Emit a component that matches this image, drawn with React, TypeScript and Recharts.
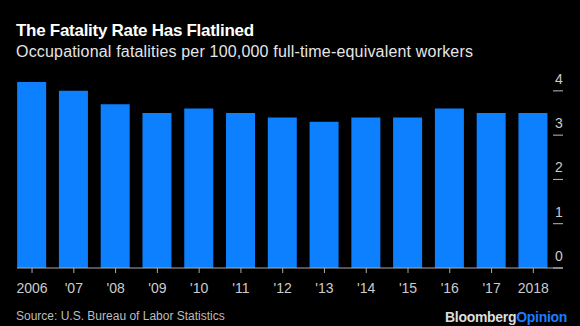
import { BarChart, Bar, XAxis, YAxis } from 'recharts';

const years = [2006, 2007, 2008, 2009, 2010, 2011, 2012, 2013, 2014, 2015, 2016, 2017, 2018];
const yearLabels = ['2006', "'07", "'08", "'09", "'10", "'11", "'12", "'13", "'14", "'15", "'16", "'17", '2018'];
const rates = [4.2, 4.0, 3.7, 3.5, 3.6, 3.5, 3.4, 3.3, 3.4, 3.4, 3.6, 3.5, 3.5];
const yTicks = [0, 1, 2, 3, 4];

const data = years.map((year, i) => ({ year, rate: rates[i] }));

const FONT = '"Liberation Sans", Arial, Helvetica, sans-serif';

// y labels sit above a short dash, Bloomberg style
function RightTick(props: any) {
  const { x, y, payload } = props;
  return (
    <g>
      <line x1={x - 10} x2={x} y1={y} y2={y} stroke="#bbb" strokeWidth={1} />
      <text
        x={x - 4}
        y={y - 12}
        textAnchor="middle"
        dominantBaseline="central"
        fill="#ccc"
        fontSize={14}
        fontFamily={FONT}
      >
        {payload.value}
      </text>
    </g>
  );
}

export default function App() {
  return (
    <div
      style={{
        position: 'absolute',
        left: 0,
        top: 0,
        width: 580,
        height: 326,
        background: '#000',
        fontFamily: FONT,
        overflow: 'hidden',
      }}
    >
      <div style={{ position: 'absolute', left: 16, top: 21, color: '#fff', fontSize: 17, fontWeight: 700, whiteSpace: 'nowrap', letterSpacing: -0.28 }}>
        The Fatality Rate Has Flatlined
      </div>
      <div style={{ position: 'absolute', left: 16, top: 43, color: '#e6e6e6', fontSize: 16, whiteSpace: 'nowrap', letterSpacing: 0.18 }}>
        Occupational fatalities per 100,000 full-time-equivalent workers
      </div>

      <div style={{ position: 'absolute', left: 0, top: 0 }}>
        <BarChart
          width={580}
          height={326}
          data={data}
          margin={{ top: 82, right: 17, bottom: 28, left: 17 }}
        >
          <XAxis
            dataKey="year"
            type="number"
            domain={[2005.64, 2018.71]}
            ticks={years}
            allowDataOverflow
            height={30}
            tickFormatter={(v: number) => yearLabels[years.indexOf(v)]}
            axisLine={{ stroke: '#aaa' }}
            tickLine={{ stroke: '#aaa' }}
            tickSize={5}
            tickMargin={10}
            tick={{ fill: '#ccc', fontSize: 14, fontFamily: FONT }}
            interval={0}
          />
          <YAxis
            orientation="right"
            mirror
            domain={[0, 4.2]}
            ticks={yTicks}
            axisLine={false}
            tickLine={false}
            tickSize={0}
            tickMargin={0}
            tick={<RightTick />}
            allowDataOverflow
          />
          <Bar dataKey="rate" fill="#0d80ff" barSize={29} isAnimationActive={false} />
        </BarChart>
      </div>

      <div style={{ position: 'absolute', left: 16, top: 309, color: '#bdbdbd', fontSize: 12, whiteSpace: 'nowrap' }}>
        Source: U.S. Bureau of Labor Statistics
      </div>
      <div style={{ position: 'absolute', right: 13, top: 309, fontSize: 14, fontWeight: 700, whiteSpace: 'nowrap', letterSpacing: -0.3 }}>
        <span style={{ color: '#ddd' }}>Bloomberg</span>
        <span style={{ color: '#1a7cff' }}>Opinion</span>
      </div>
    </div>
  );
}
